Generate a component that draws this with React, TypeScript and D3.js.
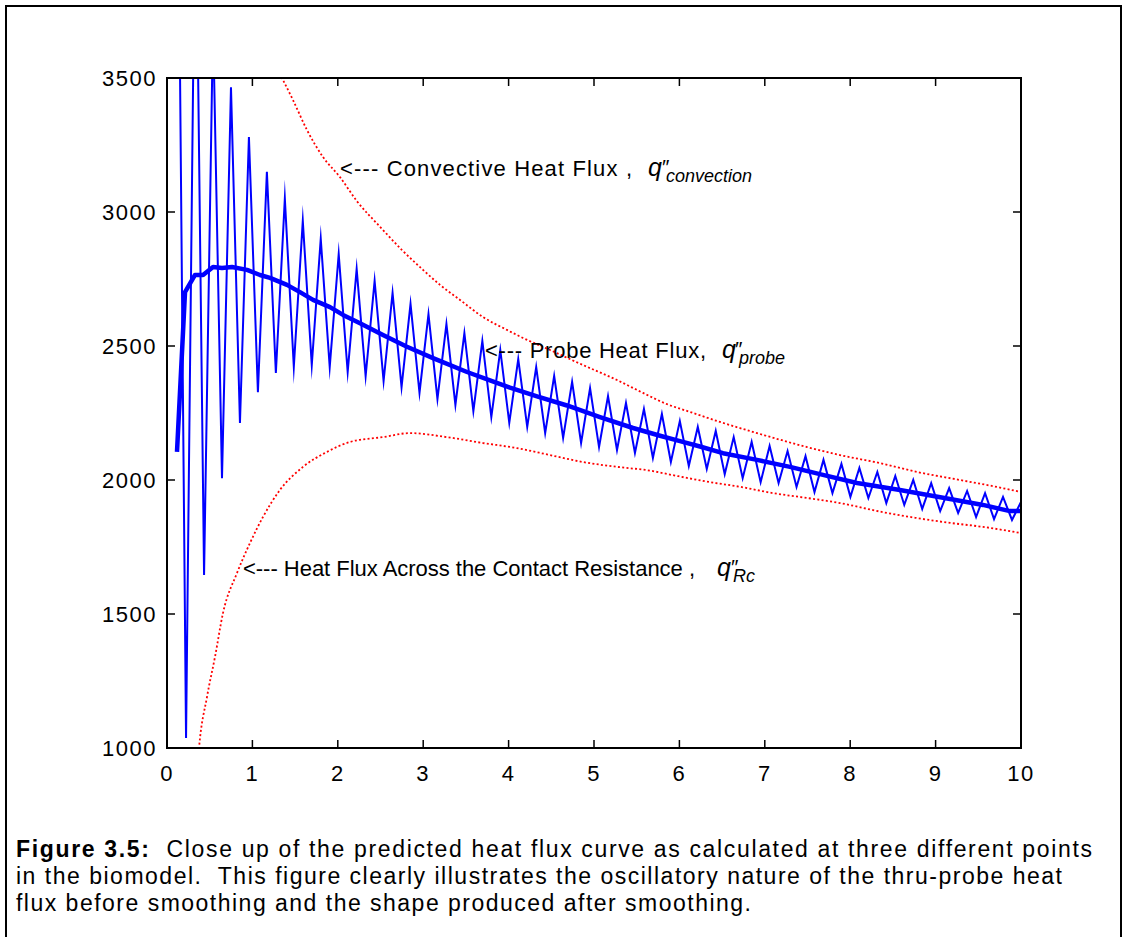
import React from "react";
import * as d3 from "d3";

// ---- data ----
const xTicks = [0, 1, 2, 3, 4, 5, 6, 7, 8, 9, 10];
const yTicks = [1000, 1500, 2000, 2500, 3000, 3500];

// raw (unsmoothed) probe heat flux: first irregular samples, then regular grid
const rawEarlyT = [0.118, 0.223, 0.334, 0.434, 0.539];
const rawEarlyV = [4730, 1037, 4330, 1646, 3710];
const RAW_T0 = 0.644;
const RAW_DT = 0.10512;
const rawV = [
  2007, 3465, 2213, 3280, 2328, 3150, 2399, 3050, 2422, 2967, 2429, 2900, 2421,
  2843, 2403, 2787, 2388, 2743, 2369, 2698, 2347, 2657, 2325, 2619, 2302, 2582,
  2280, 2548, 2257, 2519, 2235, 2485, 2213, 2451, 2198, 2421, 2175, 2388, 2157,
  2366, 2138, 2343, 2123, 2313, 2112, 2287, 2101, 2265, 2082, 2246, 2067, 2220,
  2052, 2198, 2041, 2183, 2022, 2160, 2007, 2142, 1992, 2127, 1989, 2108, 1974,
  2089, 1955, 2075, 1951, 2060, 1937, 2045, 1933, 2030, 1914, 2015, 1907, 2000,
  1892, 1988, 1884, 1970, 1877, 1959, 1862, 1951, 1854, 1937, 1851, 1918,
];

// smoothed probe heat flux
const smoothT = [
  0.117, 0.211, 0.328, 0.422, 0.539, 0.644, 0.761, 0.937, 1.089, 1.206, 1.405,
  1.557, 1.71, 1.909, 2.061, 2.26, 2.529, 2.81, 3.115, 3.513, 3.782, 4.016,
  4.333, 4.684, 5.07, 5.457, 5.773, 6.007, 6.241, 6.511, 6.909, 7.295, 7.681,
  8.08, 8.583, 9.169, 9.555, 9.871, 10.0,
];
const smoothV = [
  2105, 2701, 2765, 2765, 2795, 2791, 2795, 2784, 2765, 2754, 2728, 2701, 2672,
  2645, 2616, 2585, 2541, 2497, 2455, 2403, 2372, 2345, 2312, 2278, 2235, 2194,
  2165, 2145, 2125, 2100, 2075, 2049, 2019, 1989, 1963, 1929, 1907, 1884, 1884,
];

// convective heat flux
const convT = [
  1.206, 1.347, 1.475, 1.639, 1.827, 2.026, 2.225, 2.494, 2.752, 2.998, 3.197,
  3.431, 3.7, 3.981, 4.169, 4.485, 4.871, 5.269, 5.574, 5.855, 6.124, 6.511,
  6.909, 7.494, 7.881, 8.349, 8.782, 9.286, 9.719, 10.0,
];
const convV = [
  3590, 3500, 3418, 3306, 3205, 3130, 3040, 2945, 2858, 2784, 2728, 2672, 2608,
  2560, 2530, 2485, 2429, 2373, 2325, 2283, 2254, 2213, 2175, 2123, 2093, 2063,
  2030, 2000, 1974, 1955,
];

// heat flux across the contact resistance
const rcT = [
  0.35, 0.375, 0.468, 0.562, 0.656, 0.82, 0.972, 1.124, 1.323, 1.593, 1.874,
  2.143, 2.529, 2.845, 3.279, 3.7, 4.098, 4.485, 4.871, 5.269, 5.656, 5.925,
  6.323, 6.721, 7.096, 7.494, 7.881, 8.384, 8.782, 9.169, 9.555, 10.0,
];
const rcV = [
  900, 1000, 1190, 1340, 1504, 1653, 1765, 1862, 1963, 2049, 2105, 2142, 2160,
  2175, 2160, 2138, 2119, 2093, 2067, 2049, 2035, 2018, 1994, 1974, 1951, 1933,
  1914, 1880, 1858, 1840, 1825, 1802,
];

const captionBold = "Figure 3.5:";
const captionLine1 = "\u00a0 Close up of the predicted heat flux curve as calculated at three different points";
const captionLines = [
  "in the biomodel.\u00a0 This figure clearly illustrates the oscillatory nature of the thru-probe heat",
  "flux before smoothing and the shape produced after smoothing.",
];
const captionWidths = [1076, 1046, 735];

// ---- layout ----
const W = 1128;
const H = 937;
const M = { left: 167, right: 1021, top: 78, bottom: 748 };
const FONT = "'Liberation Sans', Arial, Helvetica, sans-serif";

export default function App() {
  const x = d3.scaleLinear().domain([0, 10]).range([M.left, M.right]);
  const y = d3.scaleLinear().domain([1000, 3500]).range([M.bottom, M.top]);

  const rawPts: [number, number][] = [
    ...rawEarlyT.map((t, i) => [t, rawEarlyV[i]] as [number, number]),
    ...rawV.map((v, i) => [RAW_T0 + i * RAW_DT, v] as [number, number]),
  ];
  const smoothPts = smoothT.map((t, i) => [t, smoothV[i]] as [number, number]);
  const convPts = convT.map((t, i) => [t, convV[i]] as [number, number]);
  const rcPts = rcT.map((t, i) => [t, rcV[i]] as [number, number]);

  const line = d3
    .line<[number, number]>()
    .x((d) => x(d[0]))
    .y((d) => y(d[1]));
  const smoothLine = d3
    .line<[number, number]>()
    .x((d) => x(d[0]))
    .y((d) => y(d[1]))
    .curve(d3.curveMonotoneX);

  const tickLen = 8;
  const tickStyle = { fontFamily: FONT, letterSpacing: "1.5px" } as React.CSSProperties;
  const textStyle = { fontFamily: FONT } as React.CSSProperties;

  return (
    <svg
      width={W}
      height={H}
      style={{ position: "absolute", left: 0, top: 0, background: "#fff" }}
    >
      <rect x={0} y={0} width={W} height={H} fill="#fff" />
      {/* outer frame */}
      <rect x={6} y={6} width={1115} height={945} fill="none" stroke="#000" strokeWidth={2} />

      <defs>
        <clipPath id="plotClip">
          <rect x={M.left} y={M.top} width={M.right - M.left} height={M.bottom - M.top} />
        </clipPath>
      </defs>

      <g clipPath="url(#plotClip)">
        <path d={smoothLine(convPts) || ""} fill="none" stroke="#ff0000" strokeWidth={1.8} strokeDasharray="2 2.3" />
        <path d={smoothLine(rcPts) || ""} fill="none" stroke="#ff0000" strokeWidth={1.8} strokeDasharray="2 2.3" />
        <path d={line(rawPts) || ""} fill="none" stroke="#0000ff" strokeWidth={2} strokeLinejoin="miter" strokeMiterlimit={20} />
        <path d={line(smoothPts) || ""} fill="none" stroke="#0000ff" strokeWidth={4.5} strokeLinejoin="round" />
      </g>

      {/* axes box */}
      <rect
        x={M.left}
        y={M.top}
        width={M.right - M.left}
        height={M.bottom - M.top}
        fill="none"
        stroke="#000"
        strokeWidth={2}
      />
      {xTicks.map((t) => (
        <g key={"xt" + t}>
          <line x1={x(t)} x2={x(t)} y1={M.bottom} y2={M.bottom - tickLen} stroke="#000" strokeWidth={1.5} />
          <line x1={x(t)} x2={x(t)} y1={M.top} y2={M.top + tickLen} stroke="#000" strokeWidth={1.5} />
          <text x={x(t)} y={781} textAnchor="middle" fontSize={22} style={tickStyle}>
            {t}
          </text>
        </g>
      ))}
      {yTicks.map((v) => (
        <g key={"yt" + v}>
          <line x1={M.left} x2={M.left + tickLen} y1={y(v)} y2={y(v)} stroke="#000" strokeWidth={1.5} />
          <line x1={M.right} x2={M.right - tickLen} y1={y(v)} y2={y(v)} stroke="#000" strokeWidth={1.5} />
          <text x={157} y={y(v) + 8} textAnchor="end" fontSize={22} style={tickStyle}>
            {v}
          </text>
        </g>
      ))}

      {/* annotations */}
      <g style={textStyle} fill="#000">
        <text x={340} y={176} fontSize={22} textLength={292} lengthAdjust="spacing">{"<--- Convective Heat Flux ,"}</text>
        <text x={648} y={176} fontSize={25} fontStyle="italic">q</text>
        <text x={661} y={174} fontSize={21} fontStyle="italic">{"\u2033"}</text>
        <text x={666} y={182} fontSize={18} fontStyle="italic">convection</text>

        <text x={485} y={358} fontSize={22} textLength={221} lengthAdjust="spacing">{"<--- Probe Heat Flux,"}</text>
        <text x={722} y={358} fontSize={25} fontStyle="italic">q</text>
        <text x={734} y={356} fontSize={21} fontStyle="italic">{"\u2033"}</text>
        <text x={739} y={364} fontSize={18} fontStyle="italic">probe</text>

        <text x={243} y={576} fontSize={22} textLength={452} lengthAdjust="spacing">{"<--- Heat Flux Across the Contact Resistance ,"}</text>
        <text x={717} y={576} fontSize={25} fontStyle="italic">q</text>
        <text x={730} y={574} fontSize={21} fontStyle="italic">{"\u2033"}</text>
        <text x={733} y={582} fontSize={18} fontStyle="italic">Rc</text>
      </g>

      {/* caption */}
      <g style={textStyle} fontSize={23} fill="#000">
        <text x={16} y={857} textLength={captionWidths[0]} lengthAdjust="spacing">
          <tspan fontWeight="bold">{captionBold}</tspan>
          <tspan>{captionLine1}</tspan>
        </text>
        {captionLines.map((s, i) => (
          <text key={i} x={16} y={884 + i * 27} textLength={captionWidths[i + 1]} lengthAdjust="spacing">
            {s}
          </text>
        ))}
      </g>
    </svg>
  );
}
